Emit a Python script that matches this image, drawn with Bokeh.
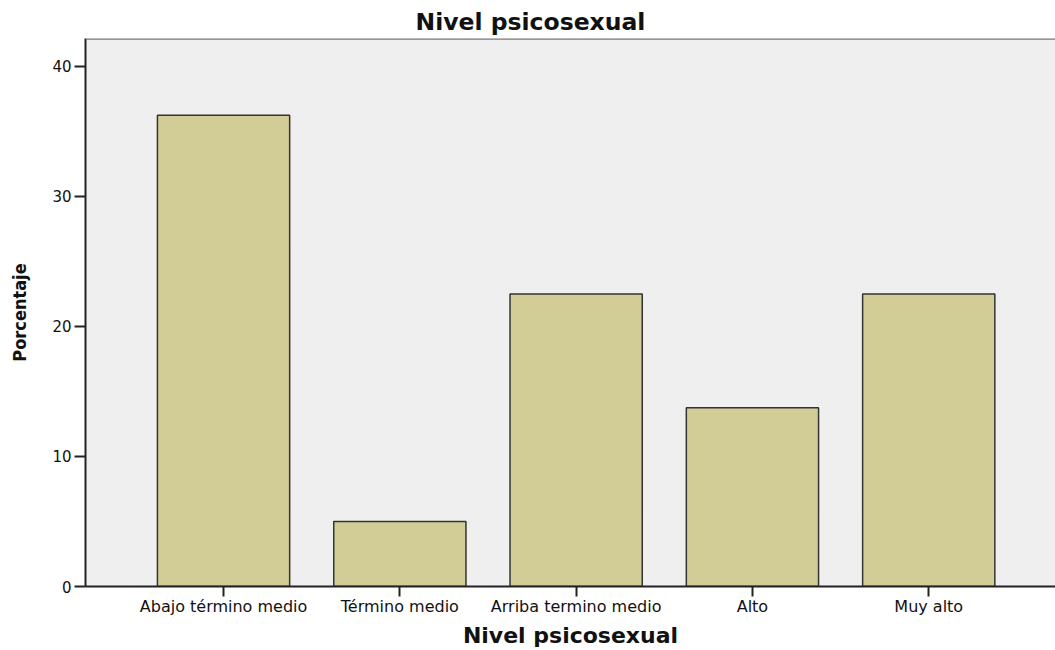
from bokeh.plotting import figure
from bokeh.models import Range1d, FixedTicker, Span, ColumnDataSource
from bokeh.embed import file_html
from bokeh.resources import INLINE

categories = ["Abajo término medio", "Término medio", "Arriba termino medio", "Alto", "Muy alto"]
porcentaje = [36.25, 5.0, 22.5, 13.75, 22.5]
y_ticks = [0, 10, 20, 30, 40]

xs = list(range(len(categories)))
src = ColumnDataSource(dict(x=xs, top=porcentaje))

p = figure(width=1055, height=650, output_backend="svg", toolbar_location=None,
           x_range=Range1d(-0.783, 4.719), y_range=Range1d(0, 42.15),
           min_border_left=85, min_border_right=0, min_border_top=38, min_border_bottom=63,
           title="Nivel psicosexual")

p.background_fill_color = "#EFEFEF"
p.border_fill_color = "white"
p.outline_line_color = None
p.grid.visible = False

p.vbar(x="x", top="top", bottom=0, width=0.75, source=src,
       fill_color="#D2CD96", line_color="#333333", line_width=1.5)

# top border of the frame
p.add_layout(Span(location=42.15, dimension="width", line_color="#7a7a7a", line_width=2.5))

p.title.align = "left"
p.title.offset = 330
p.title.text_font = "DejaVu Sans"
p.title.text_font_size = "23.5px"
p.title.text_font_style = "bold"
p.title.text_color = "#111111"
p.title.standoff = 5

p.xaxis.ticker = FixedTicker(ticks=xs)
p.xaxis.major_label_overrides = {i: c for i, c in enumerate(categories)}
p.yaxis.ticker = FixedTicker(ticks=y_ticks)

for ax in (p.xaxis, p.yaxis):
    ax.axis_line_color = "#222222"
    ax.axis_line_width = 2
    ax.major_tick_line_color = "#222222"
    ax.major_tick_line_width = 2
    ax.major_tick_in = 0
    ax.minor_tick_line_color = None
    ax.major_label_text_font = "DejaVu Sans"
    ax.major_label_text_color = "#111111"
    ax.axis_label_text_font = "DejaVu Sans"
    ax.axis_label_text_font_style = "bold"
    ax.axis_label_text_color = "#111111"

p.xaxis.major_tick_out = 10
p.xaxis.major_label_text_font_size = "16px"
p.xaxis.major_label_standoff = 0
p.xaxis.axis_label = "Nivel psicosexual"
p.xaxis.axis_label_text_font_size = "22px"
p.xaxis.axis_label_standoff = 4

p.yaxis.major_tick_out = 11
p.yaxis.major_label_text_font_size = "15px"
p.yaxis.major_label_standoff = 3
p.yaxis.axis_label = "Porcentaje"
p.yaxis.axis_label_text_font = "DejaVu Sans Condensed"
p.yaxis.axis_label_text_font_size = "18px"
p.yaxis.axis_label_standoff = 19

open("out.html", "w").write(file_html(p, INLINE))
